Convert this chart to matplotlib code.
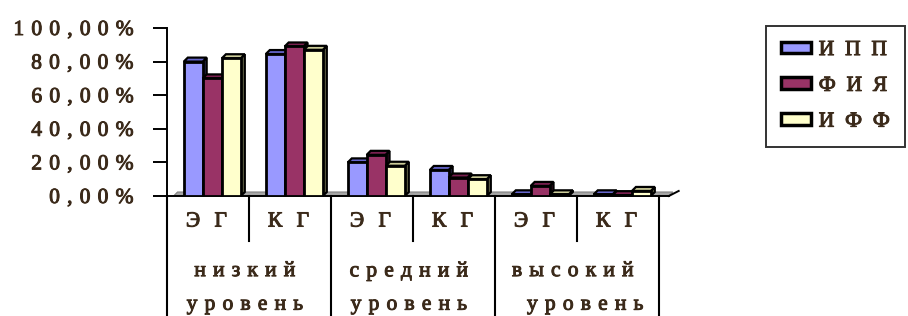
import matplotlib
matplotlib.use("Agg")
import matplotlib.pyplot as plt
import matplotlib.patheffects as pe
from matplotlib.patches import Polygon, Patch
from matplotlib.transforms import blended_transform_factory

plt.rcParams['font.family'] = ['Liberation Serif', 'DejaVu Serif']

# data
levels = ["низкий", "средний", "высокий"]
groups = ["ЭГ", "КГ"]
series = ["ИПП", "ФИЯ", "ИФФ"]
ipp = [0.80, 0.845, 0.20, 0.155, 0.01, 0.01]
fiya = [0.70, 0.89, 0.245, 0.11, 0.06, 0.005]
iff = [0.82, 0.87, 0.18, 0.10, 0.01, 0.03]
yticks = [0.0, 0.2, 0.4, 0.6, 0.8, 1.0]

front = ["#9999ff", "#993366", "#ffffcc"]
side = ["#33335e", "#4a1530", "#7d7d5a"]
topc = ["#6666cc", "#7a2050", "#cccc99"]
txt = "#3b2a1a"
SP = "\u2004"
FS = 15.5
heavy = [pe.withStroke(linewidth=0.7, foreground=txt)]


def spaced(s, k=1, sp=SP):
    return (sp * k).join(s)


fig = plt.figure(figsize=(9.08, 3.16), dpi=100)
W, H = 908, 316
ax = fig.add_axes([167 / W, (H - 196) / H, (659 - 167) / W, 168 / H])
ax.set_xlim(-0.5, 5.5)
ax.set_ylim(0, 1.0)

dx, dy = 4 / 82, 4 / 168
bw = 0.23
offs = [-0.18, 0.05, 0.285]
n = len(ipp)
xs = list(range(n))

# floor
floor = Polygon([(-0.42, 0), (5.62, 0), (5.62 + dx, dy), (-0.42 + dx, dy)],
                closed=True, facecolor="#a6a6a6", edgecolor="#808080",
                lw=0.8, zorder=1, clip_on=False)
ax.add_patch(floor)

vals = [ipp, fiya, iff]
for i in xs:
    for k in range(3):
        v = vals[k][i]
        x0 = i + offs[k] - bw / 2
        x1 = x0 + bw
        z = 3 + k
        ax.add_patch(Polygon([(x1, 0), (x1 + dx, dy), (x1 + dx, v + dy), (x1, v)],
                             closed=True, facecolor=side[k], edgecolor="black",
                             lw=1.6, zorder=z, clip_on=False))
        ax.add_patch(Polygon([(x0, v), (x0 + dx, v + dy), (x1 + dx, v + dy), (x1, v)],
                             closed=True, facecolor=topc[k], edgecolor="black",
                             lw=1.6, zorder=z, clip_on=False))
        ax.bar(i + offs[k], v, width=bw, color=front[k], edgecolor="black",
               lw=2, zorder=z + 0.5)

# axes styling
for s in ["top", "right", "bottom"]:
    ax.spines[s].set_visible(False)
ax.spines["left"].set_linewidth(1.4)
ax.set_xticks([])
ax.set_yticks(yticks)
ax.set_yticklabels([spaced(("%.2f" % t).replace(".", ",") + "%") for t in [100 * y for y in yticks]],
                   fontsize=FS, color=txt)
for t in ax.get_yticklabels():
    t.set_path_effects(heavy)
ax.tick_params(axis="y", length=10, width=1.4, pad=14)

tr = blended_transform_factory(ax.transData, ax.transAxes)
# baseline
ax.plot([-0.5, 5.62], [0, 0], color="black", lw=1.4, transform=tr, clip_on=False, zorder=2)
ax.plot([5.62, 5.62 + 0.12], [0, 0.03], color="black", lw=1.4, transform=tr, clip_on=False, zorder=2)

# category dividers
for b in range(n + 1):
    x = b - 0.5
    long_line = b % 2 == 0
    ax.plot([x, x], [0, -0.72 if long_line else -0.265], color="black", lw=1.5,
            transform=tr, clip_on=False)

for i in xs:
    ax.text(i - 0.02, -0.155, spaced(groups[i % 2], 2), transform=tr, ha="center", va="center",
            fontsize=FS, color=txt, path_effects=heavy)

shift = [0, 0, 0.15]
for j, lv in enumerate(levels):
    c = 2 * j + 0.5
    ax.text(c - 0.05, -0.45, spaced(lv), transform=tr, ha="center", va="center",
            fontsize=FS, color=txt, path_effects=heavy)
    ax.text(c - 0.05 + shift[j], -0.65, spaced("уровень"), transform=tr, ha="center",
            va="center", fontsize=FS, color=txt, path_effects=heavy)

# legend
handles = [Patch(facecolor=front[k], edgecolor="black", lw=2.5) for k in range(3)]
leg = fig.legend(handles, [spaced(s, 1, "\u2002") for s in series], loc="upper left",
                 bbox_to_anchor=(766 / W, 1 - 26 / H),
                 prop={"size": FS},
                 frameon=True, fancybox=False, edgecolor="black",
                 handlelength=1.4, handleheight=0.45, handletextpad=0.35,
                 labelspacing=0.78, borderpad=0.7, borderaxespad=0)
leg.get_frame().set_linewidth(1.4)
for t in leg.get_texts():
    t.set_color(txt)
    t.set_path_effects(heavy)

fig.savefig("out.png", dpi=100)
